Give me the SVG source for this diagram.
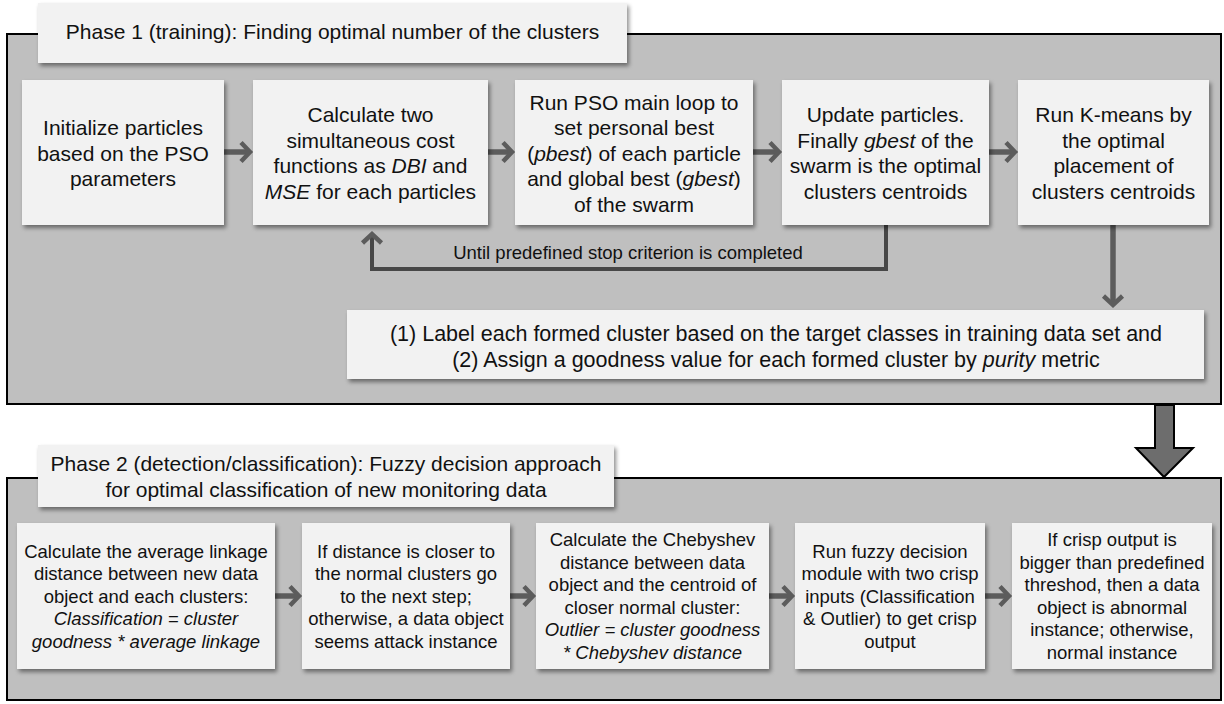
<svg xmlns="http://www.w3.org/2000/svg" width="1224" height="704" viewBox="0 0 1224 704">
<style>
text{font-family:"Liberation Sans",Arial,sans-serif;fill:#111;text-anchor:middle}
.t21{font-size:21px}
.t18{font-size:18.5px}
.tl{font-size:21.5px}
.box{fill:#f2f2f2;filter:url(#sh)}
.outer{fill:#bfbfbf;stroke:#000;stroke-width:2}
.arr{fill:none;stroke:#5c5c5c;stroke-width:5.5;marker-end:url(#chev)}
.loop{fill:none;stroke:#474747;stroke-width:4;marker-end:url(#chev)}
.it{font-style:italic}
</style>
<defs>
<filter id="sh" x="-10%" y="-10%" width="125%" height="130%">
<feDropShadow dx="2" dy="3" stdDeviation="2" flood-color="#000" flood-opacity="0.45"/>
</filter>
<marker id="chev" markerUnits="userSpaceOnUse" viewBox="0 0 16 26" markerWidth="16" markerHeight="26" refX="10" refY="13" orient="auto">
<path d="M3,3.5 L12,13 L3,22.5" fill="none" stroke="#5c5c5c" stroke-width="4.5"/>
</marker>
</defs>

<rect id="phase1" class="outer" x="7" y="34" width="1214" height="370"/>
<rect id="phase2" class="outer" x="7" y="478" width="1214" height="222"/>

<g id="title1">
<rect class="box" x="38" y="3" width="589" height="60"/>
<text class="t21" x="332.5" y="38.5">Phase 1 (training): Finding optimal number of the clusters</text>
</g>

<g id="title2">
<rect class="box" x="38" y="445" width="576" height="62"/>
<text class="t21" x="326" y="470.5">Phase 2 (detection/classification): Fuzzy decision approach<tspan x="326" dy="26">for optimal classification of new monitoring data</tspan></text>
</g>

<g id="connectors">
<path class="arr" d="M224,152 H248"/>
<path class="arr" d="M488,152 H510"/>
<path class="arr" d="M753,152 H777"/>
<path class="arr" d="M989,152 H1013"/>
<path class="loop" d="M886,225 V269 H372 V236"/>
<path class="arr" d="M1113,225 V303"/>
<path class="arr" d="M275,596 H297"/>
<path class="arr" d="M510,596 H531"/>
<path class="arr" d="M769,596 H790"/>
<path class="arr" d="M985,596 H1007"/>
<polygon id="phase-arrow" points="1155,405 1174,405 1174,448 1193,448 1164,477 1136,448 1155,448" fill="#6d6d6d" stroke="#000" stroke-width="2" stroke-linejoin="miter"/>
<text class="t18" x="628" y="258.5">Until predefined stop criterion is completed</text>
</g>

<g id="n1">
<rect class="box" x="22" y="80" width="202" height="145"/>
<text class="t21" x="123" y="135">Initialize particles<tspan x="123" dy="25.5">based on the PSO</tspan><tspan x="123" dy="25.5">parameters</tspan></text>
</g>
<g id="n2">
<rect class="box" x="253" y="80" width="235" height="145"/>
<text class="t21" x="370.5" y="122.2">Calculate two<tspan x="370.5" dy="25.5">simultaneous cost</tspan><tspan x="370.5" dy="25.5">functions as <tspan class="it">DBI</tspan> and</tspan><tspan x="370.5" dy="25.5"><tspan class="it">MSE</tspan> for each particles</tspan></text>
</g>
<g id="n3">
<rect class="box" x="515" y="80" width="238" height="145"/>
<text class="t21" x="634" y="109.5">Run PSO main loop to<tspan x="634" dy="25.5">set personal best</tspan><tspan x="634" dy="25.5">(<tspan class="it">pbest</tspan>) of each particle</tspan><tspan x="634" dy="25.5">and global best (<tspan class="it">gbest</tspan>)</tspan><tspan x="634" dy="25.5">of the swarm</tspan></text>
</g>
<g id="n4">
<rect class="box" x="782" y="80" width="207" height="145"/>
<text class="t21" x="885.5" y="122.2">Update particles.<tspan x="885.5" dy="25.5">Finally <tspan class="it">gbest</tspan> of the</tspan><tspan x="885.5" dy="25.5">swarm is the optimal</tspan><tspan x="885.5" dy="25.5">clusters centroids</tspan></text>
</g>
<g id="n5">
<rect class="box" x="1018" y="80" width="191" height="145"/>
<text class="t21" x="1113.5" y="122.2">Run K-means by<tspan x="1113.5" dy="25.5">the optimal</tspan><tspan x="1113.5" dy="25.5">placement of</tspan><tspan x="1113.5" dy="25.5">clusters centroids</tspan></text>
</g>
<g id="label">
<rect class="box" x="347" y="310" width="857" height="69"/>
<text class="tl" x="776" y="340.5">(1) Label each formed cluster based on the target classes in training data set and<tspan x="776" dy="26">(2) Assign a goodness value for each formed cluster by <tspan class="it">purity</tspan> metric</tspan></text>
</g>

<g id="m1">
<rect class="box" x="17" y="523" width="258" height="146"/>
<text class="t18" x="146" y="557.6">Calculate the average linkage<tspan x="146" dy="22.5">distance between new data</tspan><tspan x="146" dy="22.5">object and each clusters:</tspan><tspan x="146" dy="22.5" class="it">Classification = cluster</tspan><tspan x="146" dy="22.5" class="it">goodness * average linkage</tspan></text>
</g>
<g id="m2">
<rect class="box" x="302" y="523" width="208" height="146"/>
<text class="t18" x="406" y="557.6">If distance is closer to<tspan x="406" dy="22.5">the normal clusters go</tspan><tspan x="406" dy="22.5">to the next step;</tspan><tspan x="406" dy="22.5">otherwise, a data object</tspan><tspan x="406" dy="22.5">seems attack instance</tspan></text>
</g>
<g id="m3">
<rect class="box" x="536" y="523" width="233" height="146"/>
<text class="t18" x="652.5" y="546.35">Calculate the Chebyshev<tspan x="652.5" dy="22.5">distance between data</tspan><tspan x="652.5" dy="22.5">object and the centroid of</tspan><tspan x="652.5" dy="22.5">closer normal cluster:</tspan><tspan x="652.5" dy="22.5" class="it">Outlier = cluster goodness</tspan><tspan x="652.5" dy="22.5" class="it">* Chebyshev distance</tspan></text>
</g>
<g id="m4">
<rect class="box" x="795" y="523" width="190" height="146"/>
<text class="t18" x="890" y="557.6">Run fuzzy decision<tspan x="890" dy="22.5">module with two crisp</tspan><tspan x="890" dy="22.5">inputs (Classification</tspan><tspan x="890" dy="22.5">&amp; Outlier) to get crisp</tspan><tspan x="890" dy="22.5">output</tspan></text>
</g>
<g id="m5">
<rect class="box" x="1012" y="523" width="200" height="146"/>
<text class="t18" x="1112" y="546.35">If crisp output is<tspan x="1112" dy="22.5">bigger than predefined</tspan><tspan x="1112" dy="22.5">threshod, then a data</tspan><tspan x="1112" dy="22.5">object is abnormal</tspan><tspan x="1112" dy="22.5">instance; otherwise,</tspan><tspan x="1112" dy="22.5">normal instance</tspan></text>
</g>
</svg>
